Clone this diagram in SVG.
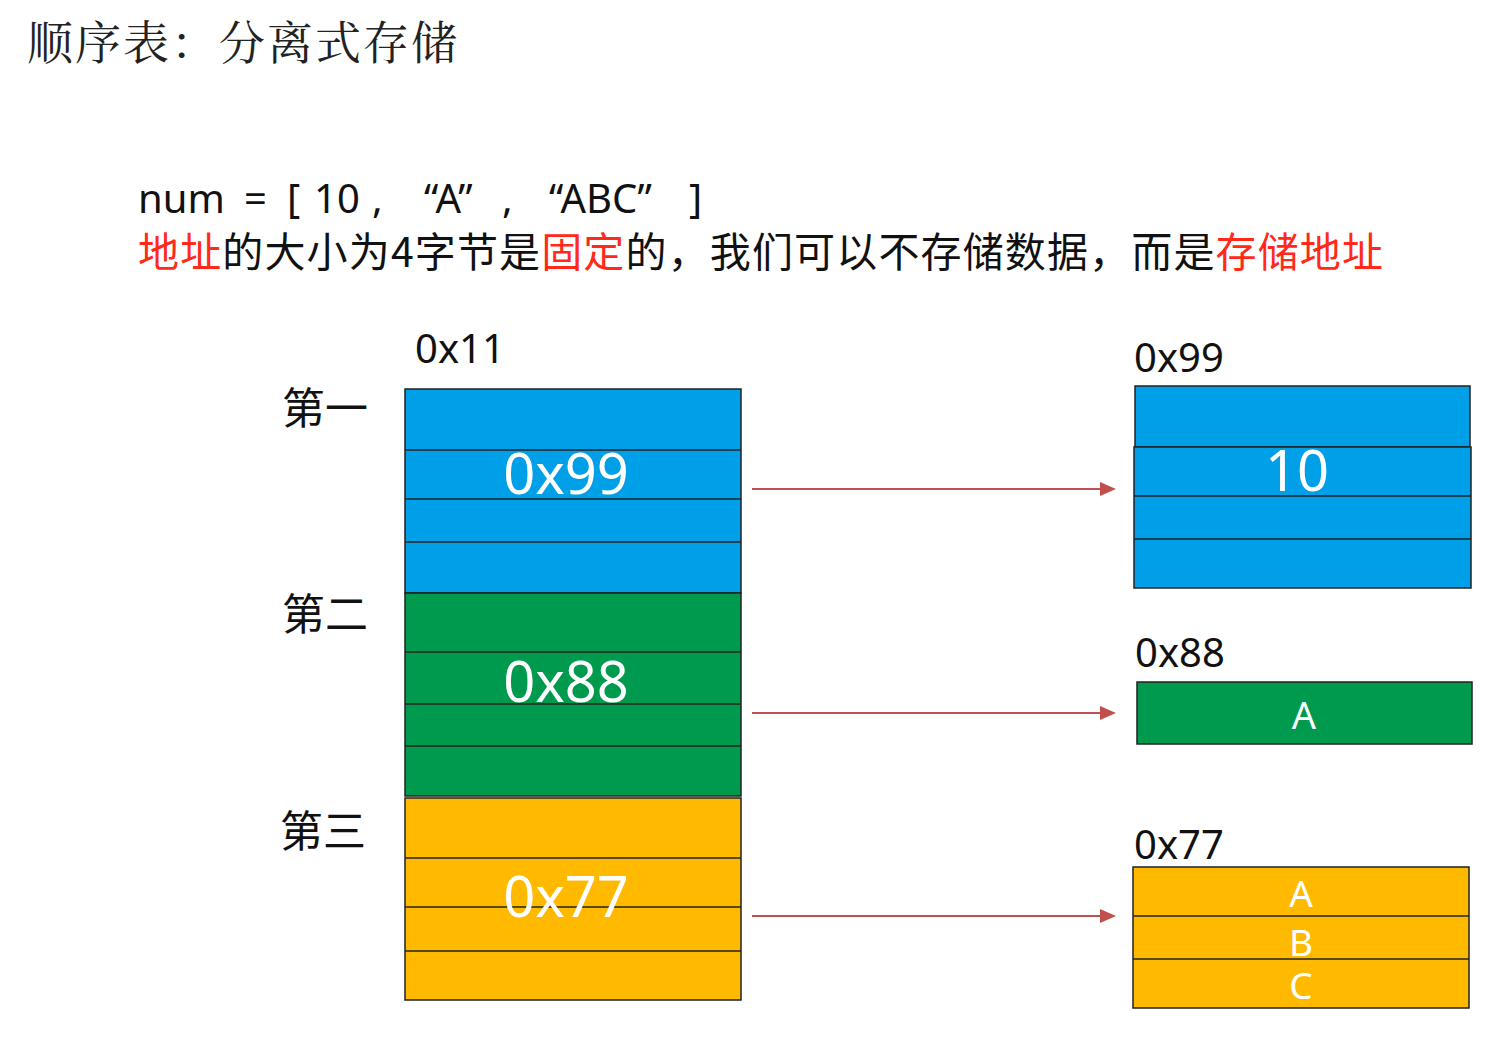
<svg xmlns="http://www.w3.org/2000/svg" width="1502" height="1040" viewBox="0 0 1502 1040">
<style>
.t{font-family:"Noto Sans","Noto Sans CJK SC",sans-serif;fill:#111}
.cj{font-family:"Noto Sans CJK SC",sans-serif;fill:#111}
.w{font-family:"Noto Sans","Noto Sans CJK SC",sans-serif;fill:#fff;text-anchor:middle}
.red{fill:#ff2a1a}
.cell{stroke:#222;stroke-width:1.5}
.b{fill:#00a0e8}.g{fill:#009a4e}.y{fill:#ffba00}
.sep{stroke:#222;stroke-width:1.5}
.arr{stroke:#c0504d;stroke-width:2;fill:none;marker-end:url(#ah)}
</style>
<defs>
<marker id="ah" markerWidth="16" markerHeight="16" refX="14" refY="7" orient="auto" markerUnits="userSpaceOnUse" viewBox="0 0 16 14">
<path d="M0,0 L16,7 L0,14 z" fill="#c0504d"/>
</marker>
</defs>
<rect width="1502" height="1040" fill="#fff"/>
<g id="title"><text x="27" y="59" font-family="'Noto Serif CJK SC','Noto Sans CJK SC',serif" font-size="46" fill="#222" textLength="430">顺序表：分离式存储</text></g>
<g id="code"><text class="t" y="213" font-size="40"><tspan x="138">num</tspan><tspan x="244">=</tspan><tspan x="287">[</tspan><tspan x="314">10</tspan><tspan x="372">,</tspan><tspan x="424">“A”</tspan><tspan x="502">,</tspan><tspan x="549">“ABC”</tspan><tspan x="689">]</tspan></text></g>
<g id="desc"><text class="cj" x="138" y="267" font-size="41" textLength="1245"><tspan class="red">地址</tspan>的大小为4字节是<tspan class="red">固定</tspan>的，我们可以不存储数据，而是<tspan class="red">存储地址</tspan></text></g>
<g id="labels">
<text class="t" x="415" y="363" font-size="40">0x11</text>
<text class="cj" x="282" y="424" font-size="43">第一</text>
<text class="cj" x="282" y="630" font-size="43">第二</text>
<text class="cj" x="280" y="847" font-size="43">第三</text>
</g>
<g id="left-first">
<rect class="cell b" x="405" y="389" width="336" height="204"/>
<line class="sep" x1="405" y1="450" x2="741" y2="450"/>
<line class="sep" x1="405" y1="499" x2="741" y2="499"/>
<line class="sep" x1="405" y1="542" x2="741" y2="542"/>
<text class="w" x="566" y="494" font-size="56">0x99</text>
</g>
<g id="left-second">
<rect class="cell g" x="405" y="593" width="336" height="203"/>
<line class="sep" x1="405" y1="652" x2="741" y2="652"/>
<line class="sep" x1="405" y1="704" x2="741" y2="704"/>
<line class="sep" x1="405" y1="746" x2="741" y2="746"/>
<text class="w" x="566" y="702" font-size="56">0x88</text>
</g>
<g id="left-third">
<rect class="cell y" x="405" y="798" width="336" height="202"/>
<line class="sep" x1="405" y1="858" x2="741" y2="858"/>
<line class="sep" x1="405" y1="907" x2="741" y2="907"/>
<line class="sep" x1="405" y1="951" x2="741" y2="951"/>
<text class="w" x="566" y="917" font-size="56">0x77</text>
</g>
<g id="right-0x99">
<text class="t" x="1134" y="372" font-size="40">0x99</text>
<rect class="cell b" x="1135" y="386" width="335" height="61"/>
<rect class="cell b" x="1134" y="447" width="337" height="141"/>
<line class="sep" x1="1134" y1="496" x2="1471" y2="496"/>
<line class="sep" x1="1134" y1="539" x2="1471" y2="539"/>
<text class="w" x="1297" y="491" font-size="56">10</text>
</g>
<g id="right-0x88">
<text class="t" x="1135" y="667" font-size="40">0x88</text>
<rect class="cell g" x="1137" y="682" width="335" height="62"/>
<text class="w" x="1304" y="729" font-size="38">A</text>
</g>
<g id="right-0x77">
<text class="t" x="1134" y="859" font-size="40">0x77</text>
<rect class="cell y" x="1133" y="867" width="336" height="141"/>
<line class="sep" x1="1133" y1="916" x2="1469" y2="916"/>
<line class="sep" x1="1133" y1="959" x2="1469" y2="959"/>
<text class="w" x="1301" y="907" font-size="37">A</text>
<text class="w" x="1301" y="956" font-size="37">B</text>
<text class="w" x="1301" y="999" font-size="37">C</text>
</g>
<g id="connectors">
<line class="arr" x1="752" y1="489" x2="1114" y2="489"/>
<line class="arr" x1="752" y1="713" x2="1114" y2="713"/>
<line class="arr" x1="752" y1="916" x2="1114" y2="916"/>
</g>
</svg>
